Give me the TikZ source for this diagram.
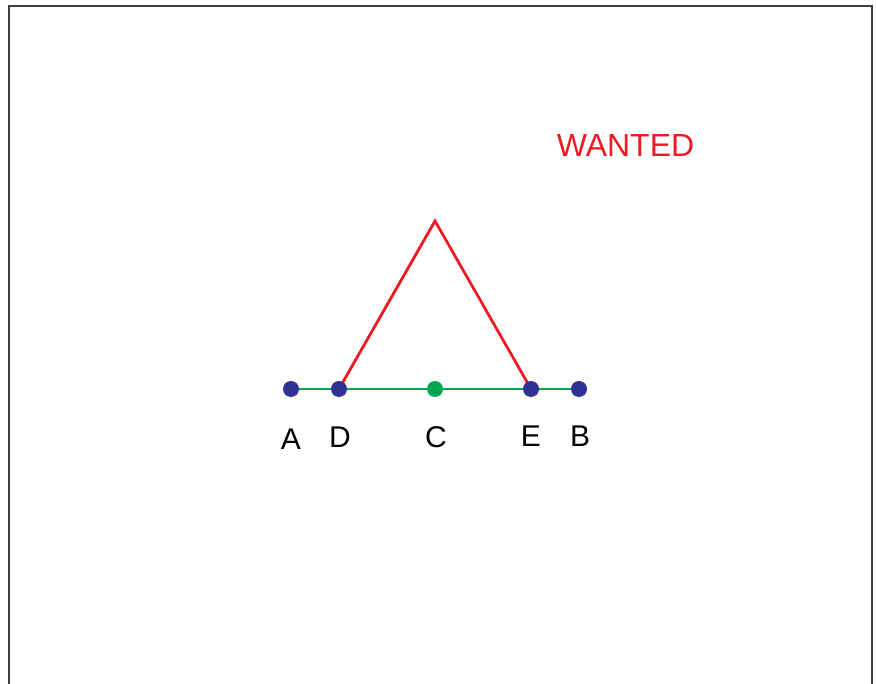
\documentclass[tikz,border=0pt]{standalone}
\usepackage{fontspec}
\setmainfont{Liberation Sans}
\usetikzlibrary{positioning, backgrounds}
\definecolor{wframe}{RGB}{64, 64, 66}
\definecolor{wred}{RGB}{237, 28, 36}
\definecolor{wgreen}{RGB}{0, 166, 81}
\definecolor{wblue}{RGB}{46, 49, 146}

\begin{document}
\begin{tikzpicture}[
  x=1pt, y=-1pt,
  dot/.style={circle, fill=#1, inner sep=0pt, minimum size=16pt},
  lbl/.style={font=\fontsize{30}{36}\selectfont, text=black, inner sep=0pt},
  seg/.style={line width=2.8pt, #1}
]
\useasboundingbox (0,0) rectangle (876,684);
\draw[wframe, line width=2.8pt] (9,700) -- (9,6) -- (872,6) -- (872,700);

\node[dot=wblue]  (A) at (291,389) {};
\node[dot=wblue]  (D) at (339,389) {};
\node[dot=wgreen] (C) at (435,389) {};
\node[dot=wblue]  (E) at (531,389) {};
\node[dot=wblue]  (B) at (579,389) {};
\coordinate (top) at (435,221);

\begin{scope}[on background layer]
\draw[seg=wgreen] (A.center) -- (B.center);
\draw[seg=wred] (D.center) -- (top) -- (E.center);
\end{scope}

\node[lbl] (lA) at (291,439) {A};
\node[lbl] (lD) at (340,437) {D};
\node[lbl] (lC) at (436,437) {C};
\node[lbl] (lE) at (531,436) {E};
\node[lbl] (lB) at (580,436) {B};

\node[lbl, text=wred, font=\fontsize{32}{38}\selectfont] (wanted) at (625.5,145) {WANTED};
\end{tikzpicture}
\end{document}
